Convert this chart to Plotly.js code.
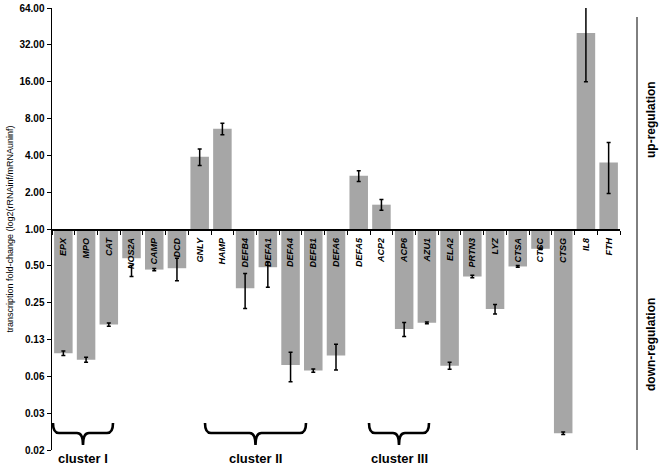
<!DOCTYPE html>
<html>
<head>
<meta charset="utf-8">
<script src="https://cdn.plot.ly/plotly-3.0.1.min.js"></script>
<style>html,body{margin:0;padding:0;background:#fff;}#chart{width:662px;height:466px;}</style>
</head>
<body>
<div id="chart"></div>
<script>
// ---- data ----
const genes = ["EPX","MPO","CAT","NOS2A","CAMP","DCD","GNLY","HAMP","DEFB4","DEFA1","DEFA4","DEFB1","DEFA6","DEFA5","ACP2","ACP6","AZU1","ELA2","PRTN3","LYZ","CTSA","CTSC","CTSG","IL8","FTH"];
const foldChange = [0.0965,0.0855,0.1655,0.577,0.466,0.478,3.9,6.6,0.328,0.487,0.0775,0.0696,0.0924,2.72,1.58,0.152,0.171,0.0764,0.409,0.222,0.494,0.689,0.0214,40,3.5];
// error bar ends (upper / lower, relative to the bar value)
const errUpper = [0.004,0.004,0.005,-0.075,0.01,0.1,0.6,0.7,0.104,0.05,0.021,0.002,0.022,0.27,0.16,0.02,0.003,0.005,0.01,0.02,0.008,0.01,0.0005,25,1.6];
const errLower = [0.004,0.004,0.005,0.167,0.01,0.1,0.6,0.7,0.104,0.153,0.021,0.002,0.022,0.27,0.16,0.02,0.003,0.005,0.01,0.02,0.008,0.01,0.0005,24,1.55];
const yTickVals = [0.015625,0.03125,0.0625,0.125,0.25,0.5,1,2,4,8,16,32,64];
const yTickText = ["0.02","0.03","0.06","0.13","0.25","0.50","1.00","2.00","4.00","8.00","16.00","32.00","64.00"];
const clusterNames = ["cluster I","cluster II","cluster III"];
const baseline = 1;

// ---- layout geometry (pixels) ----
const W = 662, H = 466;
const L = 52, R = 620, T = 8, B = 450;
const px = x => (x - L) / (R - L);
const py = y => (B - y) / (B - T);

const braces = [[53,113],[205,306],[369,429]];
const braceTop = 423, braceMid = 433, braceBot = 445;
const shapes = braces.map(([a,b]) => {
  const c = (a+b)/2, r = 6;
  const P = (x,y) => px(x).toFixed(5)+","+py(y).toFixed(5);
  return {
    type:"path", xref:"paper", yref:"paper",
    path: "M"+P(a,braceTop)+" Q"+P(a,braceMid)+" "+P(a+r,braceMid)+
          " L"+P(c-r,braceMid)+" Q"+P(c,braceMid)+" "+P(c,braceBot)+
          " Q"+P(c,braceMid)+" "+P(c+r,braceMid)+
          " L"+P(b-r,braceMid)+" Q"+P(b,braceMid)+" "+P(b,braceTop),
    line:{color:"#000",width:2.6}
  };
});
shapes.push({type:"line",xref:"paper",yref:"paper",x0:px(637),x1:px(637),y0:py(17),y1:py(450),line:{color:"#000",width:1}});

const annotations = clusterNames.map((t,i) => ({
  text:t, xref:"paper", yref:"paper", x:px((braces[i][0]+braces[i][1])/2), y:py(459),
  xanchor:"center", yanchor:"middle", showarrow:false,
  font:{family:"Liberation Sans, Arial",size:13,weight:"bold",color:"#000"}
}));
annotations.push({text:"up-regulation",xref:"paper",yref:"paper",x:px(651),y:py(120),textangle:-90,showarrow:false,xanchor:"center",yanchor:"middle",font:{family:"Liberation Sans, Arial",size:12,weight:"bold",color:"#000"}});
annotations.push({text:"down-regulation",xref:"paper",yref:"paper",x:px(651),y:py(345),textangle:-90,showarrow:false,xanchor:"center",yanchor:"middle",font:{family:"Liberation Sans, Arial",size:12,weight:"bold",color:"#000"}});

// on a log axis Plotly draws a bar from base to base+size, so size = value - base
const trace = {
  type:"bar", x:genes, y:foldChange.map(v => v - baseline), base:baseline,
  marker:{color:"#a6a6a6", line:{width:0}},
  error_y:{type:"data", symmetric:false, array:errUpper, arrayminus:errLower, color:"#000", thickness:1.5, width:2},
  customdata:foldChange, hovertemplate:"%{x}: %{customdata}<extra></extra>"
};

const layout = {
  width:W, height:H,
  margin:{l:L, r:W-R, t:T, b:H-B, pad:0},
  paper_bgcolor:"#fff", plot_bgcolor:"#fff",
  showlegend:false, bargap:0.185,
  font:{family:"Liberation Sans, Arial", color:"#000"},
  xaxis:{
    type:"category", anchor:"free", position:0.5,
    showline:true, linecolor:"#000", linewidth:1.5,
    ticks:"outside", ticklen:4, tickcolor:"#000", tickwidth:1,
    tickson:"boundaries", tickangle:-90, ticklabelstandoff:4,
    tickfont:{family:"Liberation Sans, Arial", size:9, weight:"bold", style:"italic", color:"#000"},
    showgrid:false, zeroline:false, range:[-0.5, genes.length-0.5]
  },
  yaxis:{
    type:"log", range:[Math.log10(yTickVals[0]), Math.log10(64)],
    tickvals:yTickVals, ticktext:yTickText,
    showline:true, linecolor:"#000", linewidth:1.5,
    ticks:"outside", ticklen:4, tickcolor:"#000", tickwidth:1,
    tickfont:{family:"Liberation Sans, Arial", size:10, weight:"bold", color:"#000"},
    showgrid:false, zeroline:false,
    title:{text:"transcription fold-change (log2(rRNAinf/mRNAuninf)", font:{family:"Liberation Sans, Arial", size:9, color:"#000"}, standoff:4}
  },
  shapes:shapes,
  annotations:annotations
};

Plotly.newPlot("chart",[trace],layout,{displayModeBar:false,staticPlot:true});
</script>
</body>
</html>
